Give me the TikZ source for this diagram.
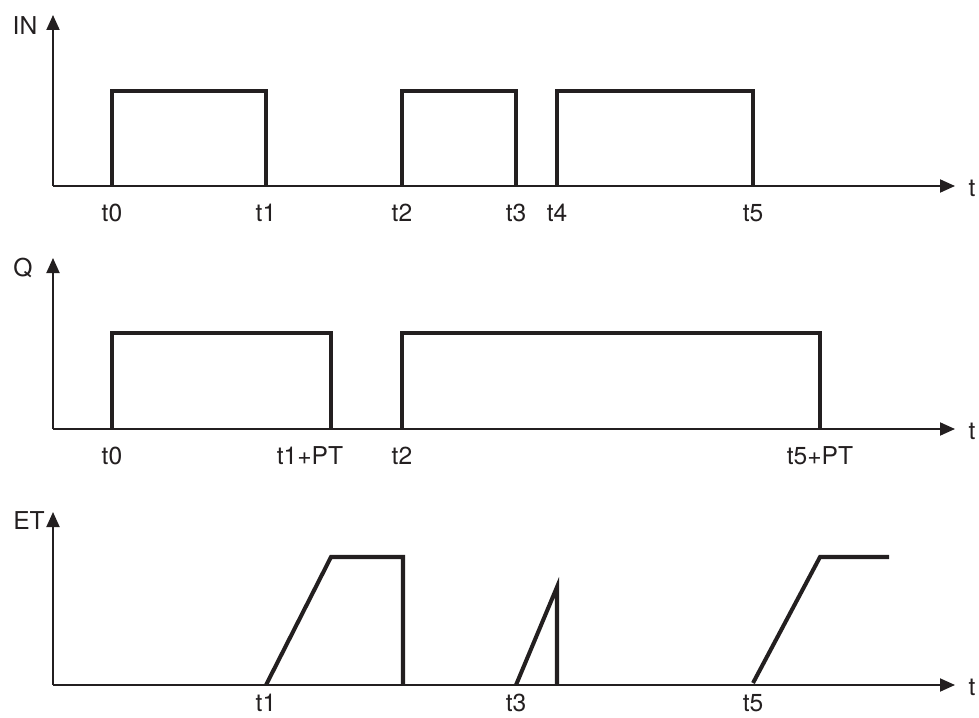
\documentclass[tikz,border=0pt]{standalone}
\usepackage{fontspec}
\setmainfont{TeX Gyre Heros}
\usetikzlibrary{arrows.meta}
\definecolor{TPBlack}{HTML}{231F20}
\tikzset{
  tpaxis/.style={TPBlack,line width=1.1pt,-{Triangle[length=0.30cm,width=0.26cm]}},
  tpsignal/.style={TPBlack,line width=2.3pt,line join=miter},
  tplabel/.style={font=\fontsize{14}{16}\selectfont,text=TPBlack,inner sep=0pt}
}

\begin{document}
\begin{tikzpicture}[x=1cm,y=1cm]
\path[use as bounding box] (0,0) rectangle (19.58,14.34);
% axes
\coordinate (oIN) at (1.06,10.62);
\coordinate (oQ) at (1.06,5.76);
\coordinate (oET) at (1.06,0.64);
\draw[tpaxis] (oIN) -- (19.10,10.62);
\draw[tpaxis] (oIN) -- (1.06,14.04);
\draw[tpaxis] (oQ) -- (19.10,5.76);
\draw[tpaxis] (oQ) -- (1.06,9.18);
\draw[tpaxis] (oET) -- (19.10,0.64);
\draw[tpaxis] (oET) -- (1.06,4.10);
\node[tplabel] (yIN) at (0.50,13.82) {IN};
\node[tplabel] (yQ) at (0.46,8.98) {Q};
\node[tplabel] (yET) at (0.58,3.92) {ET};
\node[tplabel] (xIN) at (19.44,10.58) {t};
\node[tplabel] (xQ) at (19.44,5.72) {t};
\node[tplabel] (xET) at (19.44,0.60) {t};
% IN
\draw[tpsignal] (2.24,10.62) |- (5.32,12.52) -- (5.32,10.62);
\draw[tpsignal] (8.04,10.62) |- (10.32,12.52) -- (10.32,10.62);
\draw[tpsignal] (11.14,10.62) |- (15.06,12.52) -- (15.06,10.62);
\node[tplabel] (inT0) at (2.24,10.08) {t0};
\node[tplabel] (inT1) at (5.32,10.08) {t1};
\node[tplabel] (inT2) at (8.04,10.08) {t2};
\node[tplabel] (inT3) at (10.32,10.08) {t3};
\node[tplabel] (inT4) at (11.14,10.08) {t4};
\node[tplabel] (inT5) at (15.06,10.08) {t5};
% Q
\draw[tpsignal] (2.24,5.76) |- (6.62,7.68) -- (6.62,5.76);
\draw[tpsignal] (8.04,5.76) |- (16.40,7.68) -- (16.40,5.76);
\node[tplabel] (qT0) at (2.24,5.22) {t0};
\node[tplabel] (qT1) at (6.20,5.22) {t1+PT};
\node[tplabel] (qT2) at (8.04,5.22) {t2};
\node[tplabel] (qT5) at (16.40,5.22) {t5+PT};
% ET
\draw[tpsignal] (5.32,0.64) -- (6.62,3.20) -- (8.06,3.20) -- (8.06,0.64);
\draw[tpsignal] (10.32,0.64) -- (11.14,2.60) -- (11.14,0.64);
\draw[tpsignal] (15.06,0.68) -- (16.40,3.20) -- (17.78,3.20);
\node[tplabel,anchor=south] (etT1) at (5.32,0.10) {t1};
\node[tplabel,anchor=south] (etT3) at (10.32,0.10) {t3};
\node[tplabel,anchor=south] (etT5) at (15.06,0.10) {t5};
\end{tikzpicture}
\end{document}
